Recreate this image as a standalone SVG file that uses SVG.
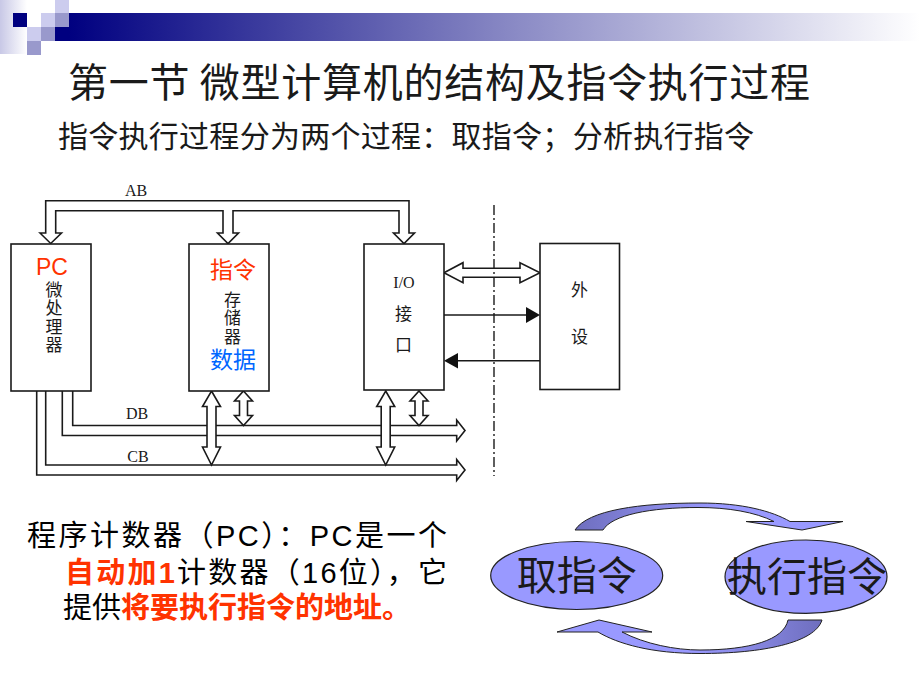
<svg xmlns="http://www.w3.org/2000/svg" width="920" height="690" viewBox="0 0 920 690">
<defs>
<linearGradient id="barG" x1="69" y1="0" x2="920" y2="0" gradientUnits="userSpaceOnUse">
<stop offset="0" stop-color="#000080"/><stop offset="0.5" stop-color="#8484c2"/><stop offset="1" stop-color="#ffffff"/>
</linearGradient>
<linearGradient id="stripG" x1="0" y1="0" x2="27" y2="0" gradientUnits="userSpaceOnUse">
<stop offset="0" stop-color="#c8c8e6"/><stop offset="1" stop-color="#ffffff"/>
</linearGradient>
<linearGradient id="topArr" x1="575" y1="0" x2="720" y2="0" gradientUnits="userSpaceOnUse">
<stop offset="0" stop-color="#6e6ebe"/><stop offset="0.6" stop-color="#8a8ae6"/><stop offset="1" stop-color="#9999ff"/>
</linearGradient>
<linearGradient id="botArr" x1="822" y1="0" x2="690" y2="0" gradientUnits="userSpaceOnUse">
<stop offset="0" stop-color="#6e6ebe"/><stop offset="0.6" stop-color="#8a8ae6"/><stop offset="1" stop-color="#9999ff"/>
</linearGradient>
<style>
.box{fill:#fff;stroke:#1a1a1a;stroke-width:1.6}
.bus{fill:none;stroke:#1a1a1a;stroke-width:1.6;stroke-linejoin:miter}
.dbl{fill:#fff;stroke:#1a1a1a;stroke-width:1.6;stroke-linejoin:miter}
.ln{fill:none;stroke:#1a1a1a;stroke-width:1.6}
.tri{fill:#111;stroke:none}
.cjk{font-family:"Noto Sans CJK SC","Noto Sans CJK TC",sans-serif;fill:#1a1a1a}
.vert{writing-mode:tb;glyph-orientation-vertical:0}
.lat{font-family:"Liberation Serif","DejaVu Serif",serif;fill:#1a1a1a}
.sans{font-family:"Liberation Sans","Noto Sans CJK SC",sans-serif}
.red{fill:#ff3300}
.ell{fill:#9999ff;stroke:#222;stroke-width:1.2}
.carr{stroke:#222;stroke-width:1}
</style>
</defs>
<rect width="920" height="690" fill="#fff"/>
<g id="header">
<rect x="0" y="0" width="27" height="54" fill="url(#stripG)"/>
<rect x="41" y="13" width="879" height="28" fill="url(#barG)"/>
<rect x="13" y="13" width="14" height="14" fill="#000080"/>
<rect x="55" y="0" width="14" height="13" fill="#ccccee"/>
<rect x="41" y="13" width="14" height="14" fill="#ccccee"/>
<rect x="55" y="13" width="14" height="14" fill="#9999cc"/>
<rect x="27" y="27" width="14" height="14" fill="#ccccee"/>
<rect x="41" y="27" width="14" height="14" fill="#9999cc"/>
<rect x="27" y="41" width="14" height="14" fill="#9999cc"/>
</g>
<g id="title">
<text class="cjk" x="68" y="97" font-size="40" fill="#000" textLength="742" lengthAdjust="spacing">第一节 微型计算机的结构及指令执行过程</text>
<text class="cjk" x="58" y="147" font-size="30" textLength="696" lengthAdjust="spacing" fill="#000">指令执行过程分为两个过程：取指令；分析执行指令</text>
</g>
<g id="connectors">
<path class="bus" d="M40,233 L50.7,243.5 L61.5,233 L55.7,233 L55.7,210.7 L223,210.7 L223,233 L217.5,233 L228,243.5 L238.5,233 L233,233 L233,210.7 L399,210.7 L399,233 L393.5,233 L404,243.5 L414.5,233 L409,233 L409,200.7 L45.7,200.7 L45.7,233 Z"/>
<path class="bus" d="M72.7,391 L72.7,425.5 L456.7,425.5 L456.7,420 L465,430.5 L456.7,441 L456.7,435.5 L62.3,435.5 L62.3,391"/>
<path class="bus" d="M45.7,391 L45.7,465 L456.7,465 L456.7,459.5 L465,470 L456.7,480.5 L456.7,475 L36.7,475 L36.7,391"/>
<path class="dbl" d="M211.5,391 L220.5,406.5 L216,406.5 L216,447 L220.5,447 L211.5,465 L202.5,447 L207,447 L207,406.5 L202.5,406.5 Z"/>
<path class="dbl" d="M243.5,391 L252.5,401 L247.5,401 L247.5,415.5 L252.5,415.5 L243.5,425.5 L234.5,415.5 L239.5,415.5 L239.5,401 L234.5,401 Z"/>
<path class="dbl" d="M385.7,391 L394.7,406.5 L390.2,406.5 L390.2,447 L394.7,447 L385.7,465 L376.7,447 L381.2,447 L381.2,406.5 L376.7,406.5 Z"/>
<path class="dbl" d="M419,391 L428,401 L423,401 L423,415.5 L428,415.5 L419,425.5 L410,415.5 L415,415.5 L415,401 L410,401 Z"/>
<path class="dbl" d="M444,272.7 L463,262.7 L463,268.3 L520,268.3 L520,262.7 L540,272.7 L520,282.7 L520,277.3 L463,277.3 L463,282.7 Z"/>
<line class="ln" x1="444" y1="315" x2="527" y2="315"/>
<polygon class="tri" points="540,315 526,307 526,323"/>
<line class="ln" x1="540" y1="360.7" x2="457" y2="360.7"/>
<polygon class="tri" points="444,360.7 458,353 458,368.5"/>
<line x1="494" y1="205" x2="494" y2="476" stroke="#1a1a1a" stroke-width="1.4" stroke-dasharray="10 3 2 3"/>
<text class="lat" x="136" y="196" font-size="16" text-anchor="middle">AB</text>
<text class="lat" x="137" y="419" font-size="16" text-anchor="middle">DB</text>
<text class="lat" x="138" y="462" font-size="16" text-anchor="middle">CB</text>
</g>
<g id="cpu">
<rect class="box" x="11" y="244" width="80" height="147"/>
<text class="sans red" x="52" y="275" font-size="23" text-anchor="middle">PC</text>
<text class="cjk vert" x="54" y="281" font-size="17" letter-spacing="1.5">微处理器</text>
</g>
<g id="memory">
<rect class="box" x="189" y="244" width="80" height="147"/>
<text class="cjk" x="233" y="278" font-size="23" text-anchor="middle" style="fill:#ff3300">指令</text>
<text class="cjk vert" x="232.5" y="291" font-size="17" letter-spacing="1.5">存储器</text>
<text class="cjk" x="233" y="368" font-size="23" text-anchor="middle" style="fill:#0066ff">数据</text>
</g>
<g id="io">
<rect class="box" x="364" y="244" width="80" height="146"/>
<text class="lat" x="404" y="288" font-size="16" text-anchor="middle">I/O</text>
<text class="cjk" x="403.5" y="320" font-size="17" text-anchor="middle">接</text>
<text class="cjk" x="403.5" y="351" font-size="17" text-anchor="middle">口</text>
</g>
<g id="peripheral">
<rect class="box" x="540" y="243.5" width="79.5" height="146"/>
<text class="cjk" x="579.5" y="296" font-size="17" text-anchor="middle">外</text>
<text class="cjk" x="579.5" y="343" font-size="17" text-anchor="middle">设</text>
</g>
<g id="pc-note">
<text class="sans" x="27" y="546" font-size="29" fill="#000" textLength="420" lengthAdjust="spacing">程序计数器（PC）：PC是一个</text>
<text class="sans" x="65" y="583" font-size="29" fill="#000" textLength="382" lengthAdjust="spacing"><tspan class="red" font-weight="bold">自动加1</tspan>计数器（16位），它</text>
<text class="sans" x="63" y="618" font-size="29" fill="#000">提供<tspan class="red" font-weight="bold">将要执行指令的地址。</tspan></text>
</g>
<g id="cycle-arrows">
<path class="carr" fill="url(#topArr)" d="M575,530 C588,510 640,503 700,503 C742,503 772,511 790,521.5 L843,521.5 L802,530 L746,521.5 L774,521.5 C755,512 728,507.5 698,507.5 C650,507.5 612,515 603,530 Z"/>
<path class="carr" fill="url(#botArr)" d="M822,620 C815,643 762,653.5 700,653.5 C652,653.5 618,644 598,632 L557,632 L599,620 L652,632 L622,632 C645,644 675,650 700,650 C750,650 784,640 788,620 Z"/>
</g>
<g id="fetch">
<ellipse class="ell" cx="576.7" cy="575.5" rx="86" ry="34"/>
<text class="cjk" x="576.7" y="590" font-size="40" text-anchor="middle" fill="#000">取指令</text>
</g>
<g id="execute">
<ellipse class="ell" cx="806" cy="576.7" rx="81" ry="36.7"/>
<text class="cjk" x="807" y="591" font-size="40" text-anchor="middle" fill="#000">执行指令</text>
</g>
</svg>
